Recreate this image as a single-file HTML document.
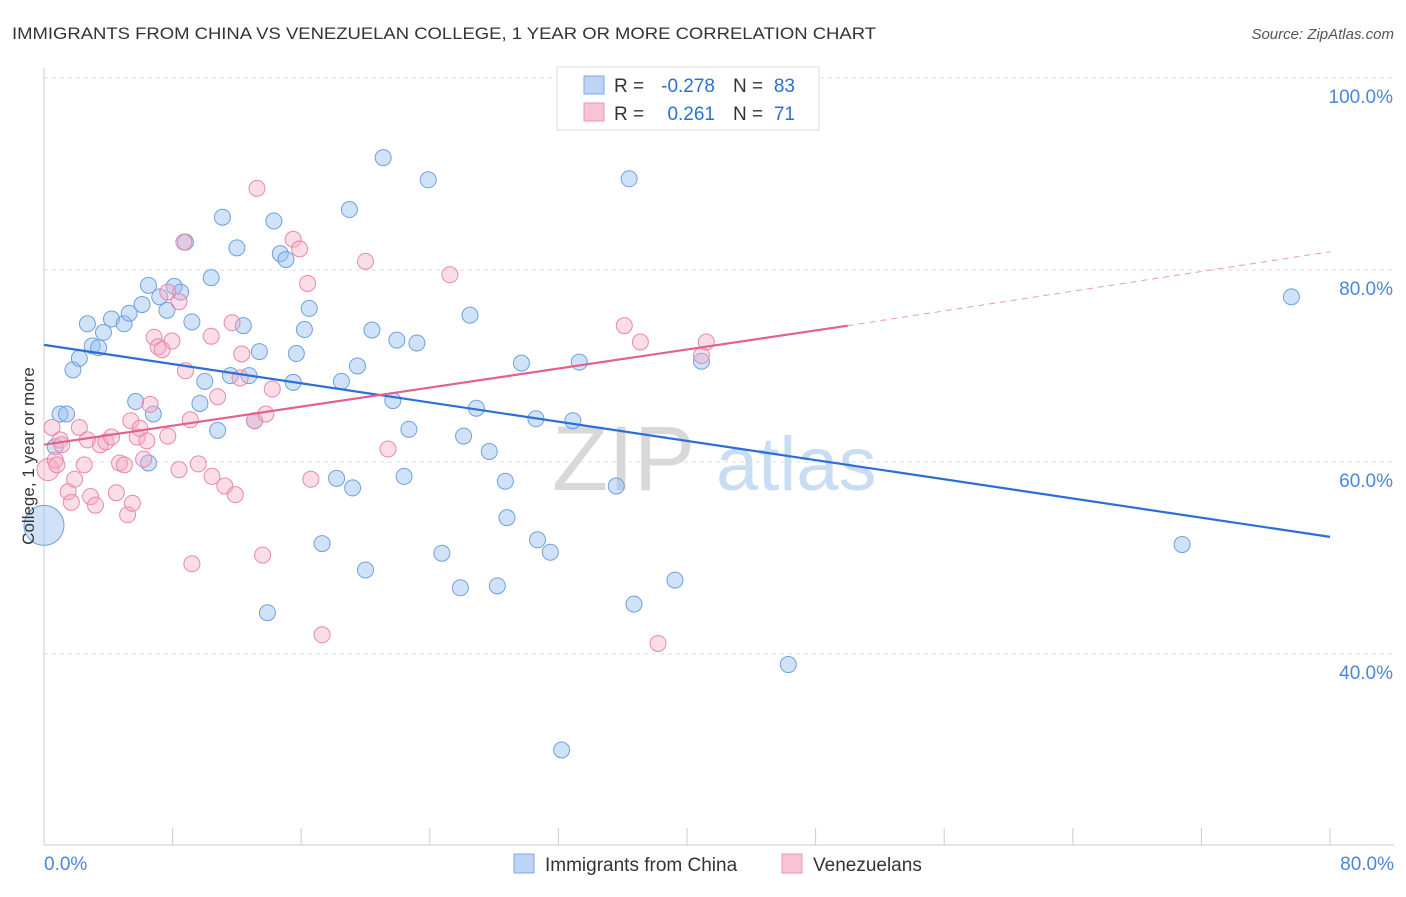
<!DOCTYPE html>
<html><head><meta charset="utf-8"><style>
body{margin:0;background:#fff;font-family:"Liberation Sans",sans-serif;}
svg text{font-family:"Liberation Sans",sans-serif;}
</style></head><body>
<svg id="chart" width="1406" height="892" xmlns="http://www.w3.org/2000/svg">
<text x="12" y="39" font-size="17" fill="#333" textLength="864" lengthAdjust="spacingAndGlyphs">IMMIGRANTS FROM CHINA VS VENEZUELAN COLLEGE, 1 YEAR OR MORE CORRELATION CHART</text>
<text x="1394" y="39" font-size="15" fill="#555" text-anchor="end" font-style="italic">Source: ZipAtlas.com</text>
<g>
<text x="552" y="490" font-size="92" fill="#d8d8d8" font-family="Liberation Serif,serif">ZIP</text>
<text x="716" y="490" font-size="76" fill="#c8dcf3">atlas</text>
</g>
<g id="grid"></g>
<g id="axes"></g>
<g id="marks"></g>
<g id="trends"></g>
<text transform="translate(34,456) rotate(-90)" font-size="17" fill="#333" text-anchor="middle">College, 1 year or more</text>
<g>
<rect x="557" y="67" width="262" height="63" fill="#fff" stroke="#ddd"/>
<rect x="584" y="76" width="20" height="18" fill="#bcd4f5" stroke="#7fa8e0"/>
<rect x="584" y="103" width="20" height="18" fill="#f8c3d3" stroke="#e897b2"/>
<text x="614" y="92" font-size="19" fill="#333">R =</text>
<text x="715" y="92" font-size="19" fill="#2b6fd6" text-anchor="end">-0.278</text>
<text x="733" y="92" font-size="19" fill="#333">N =</text>
<text x="795" y="92" font-size="19" fill="#2b6fd6" text-anchor="end">83</text>
<text x="614" y="120" font-size="19" fill="#333">R =</text>
<text x="715" y="120" font-size="19" fill="#2b6fd6" text-anchor="end">0.261</text>
<text x="733" y="120" font-size="19" fill="#333">N =</text>
<text x="795" y="120" font-size="19" fill="#2b6fd6" text-anchor="end">71</text>
</g>
<g>
<rect x="514" y="854" width="20" height="19" fill="#bcd4f5" stroke="#7fa8e0"/>
<text x="545" y="871" font-size="19" fill="#333">Immigrants from China</text>
<rect x="782" y="854" width="20" height="19" fill="#f8c3d3" stroke="#e897b2"/>
<text x="813" y="871" font-size="19" fill="#333">Venezuelans</text>
</g>
</svg>
<script>
const xTicks=[0,80];
const yTicks=[40,60,80,100];
const chinaX=[0,1.0,1.4,0.7,1.8,2.2,2.7,3.0,3.4,3.7,4.2,4.98,5.3,5.7,6.1,6.5,6.8,6.5,7.2,7.65,8.1,8.5,8.8,9.2,9.7,10.0,10.4,10.8,11.1,11.6,12.0,12.4,12.75,13.1,13.4,13.9,14.3,14.7,15.05,15.5,15.7,16.2,16.5,17.3,18.2,18.5,19.0,19.2,19.5,20.0,20.4,21.1,21.7,21.95,22.4,22.7,23.2,23.9,24.75,25.9,26.1,26.5,26.9,27.7,28.2,28.7,28.8,29.7,30.6,30.7,31.5,32.2,32.9,33.3,35.6,36.4,36.7,39.25,40.9,46.3,70.8,77.6];
const chinaY=[53.4,65.0,65.0,61.6,69.6,70.8,74.4,72.1,71.9,73.5,74.9,74.4,75.5,66.3,76.4,78.4,65.0,59.9,77.2,75.8,78.3,77.7,82.9,74.6,66.1,68.4,79.2,63.3,85.5,69.0,82.3,74.2,69.0,64.3,71.5,44.3,85.1,81.7,81.1,68.3,71.3,73.8,76.0,51.5,58.3,68.4,86.3,57.3,70.0,48.75,73.75,91.7,66.4,72.7,58.5,63.4,72.4,89.4,50.5,46.9,62.7,75.3,65.6,61.1,47.1,58.0,54.2,70.3,64.5,51.9,50.6,30.0,64.3,70.4,57.5,89.5,45.2,47.7,70.5,38.9,51.4,77.2];
const venX=[0.25,0.7,0.8,1.0,0.5,1.1,1.5,1.7,1.9,2.2,2.5,2.7,2.9,3.2,3.5,3.85,4.2,4.5,4.7,5.0,5.2,5.4,5.5,5.8,5.97,6.2,6.4,6.6,6.85,7.1,7.35,7.7,7.96,7.7,8.4,8.4,8.7,8.8,9.1,9.2,9.6,10.4,10.45,10.8,11.25,11.7,11.9,12.2,12.3,13.1,13.25,13.6,13.8,14.2,15.5,15.9,16.4,16.6,17.3,20.0,21.4,25.25,34.6,36.1,37.1,38.2,40.9,41.2];
const venY=[59.2,60.2,59.7,62.3,63.6,61.8,56.9,55.8,58.2,63.6,59.7,62.3,56.4,55.5,61.8,62.1,62.6,56.8,59.9,59.7,54.5,64.3,55.7,62.6,63.5,60.3,62.2,66.0,73.0,72.0,71.7,62.7,72.6,77.7,76.7,59.2,82.9,69.5,64.4,49.4,59.8,73.1,58.5,66.8,57.5,74.5,56.6,68.75,71.25,64.3,88.5,50.3,65.0,67.6,83.2,82.2,78.6,58.2,42.0,80.9,61.35,79.5,96.8,74.2,72.5,41.1,71.1,72.5];
const chinaTrend=[0,72.2,80,52.2];
const venTrend=[0,61.8,50,74.2,80,81.9];
const X=v=>44+v*16.075, Y=v=>78+(100-v)*9.6;
const NS='http://www.w3.org/2000/svg';
function mk(t,a,p){const e=document.createElementNS(NS,t);for(const k in a)e.setAttribute(k,a[k]);p.appendChild(e);return e;}
const grid=document.getElementById('grid'),axes=document.getElementById('axes'),marks=document.getElementById('marks'),trends=document.getElementById('trends');
yTicks.forEach(v=>{
 const l=mk('line',{x1:44,x2:1394,y1:Y(v),y2:Y(v),stroke:'#ddd','stroke-dasharray':'4,4'},grid);
 
 
 const t=mk('text',{x:1393,y:Y(v)+25,'font-size':19,fill:'#4a86dc','text-anchor':'end'},axes);
 t.textContent=v.toFixed(1)+'%';
 
 
});
mk('line',{x1:44,x2:44,y1:68,y2:845,stroke:'#ccc'},axes);
mk('line',{x1:44,x2:1394,y1:845,y2:845,stroke:'#ccc'},axes);
for(let i=0;i<=10;i++){mk('line',{x1:X(i*8),x2:X(i*8),y1:828,y2:845,stroke:'#ccc'},axes);}
xTicks.forEach((v,i)=>{
 const t=mk('text',{x:i==0?44:1394,y:870,'font-size':19,fill:'#4a86dc','text-anchor':i==0?'start':'end'},axes);
 t.textContent=v.toFixed(1)+'%';
 
 
});
chinaX.forEach((x,i)=>{
 const c=mk('circle',{cx:X(x),cy:Y(chinaY[i]),r:i==0?20:8,fill:'rgba(150,190,240,0.45)',stroke:'#6fa0e0','stroke-width':1},marks);
 
 
});
venX.forEach((x,i)=>{
 const c=mk('circle',{cx:X(x),cy:Y(venY[i]),r:i==0?11:8,fill:'rgba(244,170,195,0.4)',stroke:'#e889a8','stroke-width':1},marks);
 
 
});
const bl=mk('line',{x1:X(chinaTrend[0]),y1:Y(chinaTrend[1]),x2:X(chinaTrend[2]),y2:Y(chinaTrend[3]),stroke:'#2b6fd6','stroke-width':2.2},trends);


const pl=mk('line',{x1:X(venTrend[0]),y1:Y(venTrend[1]),x2:X(venTrend[2]),y2:Y(venTrend[3]),stroke:'#e4608f','stroke-width':2.2},trends);


const pd=mk('line',{x1:X(venTrend[2]),y1:Y(venTrend[3]),x2:X(venTrend[4]),y2:Y(venTrend[5]),stroke:'#e89ab5','stroke-width':1,'stroke-dasharray':'6,5'},trends);


</script>
</body></html>
